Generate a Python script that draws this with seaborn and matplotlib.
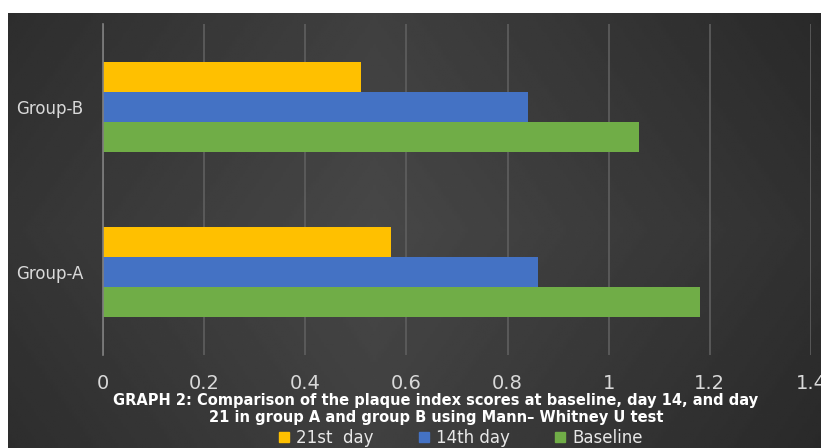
import matplotlib
matplotlib.use("Agg")
import matplotlib.pyplot as plt
import matplotlib.patches as mpatches
import seaborn as sns
import pandas as pd
import numpy as np

groups = ["Group-B", "Group-A"]
series = ["21st  day", "14th day", "Baseline"]
day21 = [0.51, 0.57]
day14 = [0.84, 0.86]
baseline = [1.06, 1.18]
xticks = [0, 0.2, 0.4, 0.6, 0.8, 1, 1.2, 1.4]
xtick_labels = ["0", "0.2", "0.4", "0.6", "0.8", "1", "1.2", "1.4"]
colors = ["#FFC000", "#4472C4", "#70AD47"]
title = ("GRAPH 2: Comparison of the plaque index scores at baseline, day 14, and day\n"
         "21 in group A and group B using Mann\u2013 Whitney U test")

rows = []
for s, vals in zip(series, [day21, day14, baseline]):
    for g, v in zip(groups, vals):
        rows.append({"group": g, "series": s, "value": v})
df = pd.DataFrame(rows)

sns.set_theme(style="dark")
plt.rcParams['font.family'] = ['DejaVu Sans']

fig = plt.figure(figsize=(8.21, 4.48), dpi=100)
fig.patch.set_facecolor("white")
# dark chart background with soft gradient
bg = fig.add_axes([8/821, 0, 1 - 8/821, 1 - 13/448])
gx = np.linspace(0, 1, 300)
gy = np.linspace(0, 1, 200)
X, Y = np.meshgrid(gx, gy)
Z = 0.28 - 0.16 * np.abs(X - 0.45) - 0.06 * np.abs(Y - 0.5)
bg.imshow(Z, cmap="gray", vmin=0, vmax=1, aspect="auto", extent=[0, 1, 0, 1])
bg.axis("off")

ax = fig.add_axes([103/821, 1 - 355/448, (811 - 103)/821, (355 - 24)/448])
ax.set_facecolor("none")
sns.barplot(data=df, y="group", x="value", hue="series", order=groups,
            hue_order=series, palette=colors, orient="h", width=0.545,
            ax=ax, legend=False, saturation=1, edgecolor="none")
ax.set_xlim(0, 1.4)
ax.set_ylim(1.5, -0.5)
ax.set_xticks(xticks)
ax.set_xticklabels(xtick_labels, color="#d9d9d9", fontsize=14)
ax.set_yticks([0, 1])
ax.set_yticklabels(groups, color="#d9d9d9", fontsize=12)
ax.set_yticks([-0.5, 0.5, 1.5], minor=True)
ax.tick_params(axis="y", which="major", length=0, pad=14)
ax.tick_params(axis="y", which="minor", length=5, color="#7f7f7f", width=1)
ax.tick_params(axis="x", length=0, pad=14)
ax.grid(axis="x", color="#5f5f5f", linewidth=1.2)
ax.grid(axis="y", visible=False)
ax.set_axisbelow(True)
for side in ["top", "right", "bottom"]:
    ax.spines[side].set_visible(False)
ax.spines["left"].set_visible(True)
ax.spines["left"].set_color("#7f7f7f")
ax.spines["left"].set_linewidth(1.2)
ax.set_xlabel("")
ax.set_ylabel("")

fig.text(436/821, 1 - 409/448, title, ha="center", va="center", color="white",
         fontsize=10.5, fontweight="bold", linespacing=1.2)

handles = [mpatches.Patch(color=c, label=s) for c, s in zip(colors, series)]
leg = fig.legend(handles=handles, loc="center", bbox_to_anchor=(461/821, 1 - 438/448),
                 ncol=3, frameon=False, fontsize=12, handlelength=0.6, handleheight=0.6,
                 handletextpad=0.45, columnspacing=2.7, borderpad=0)
for t in leg.get_texts():
    t.set_color("#e8e8e8")

fig.savefig("out.png", dpi=100, facecolor=fig.get_facecolor())
